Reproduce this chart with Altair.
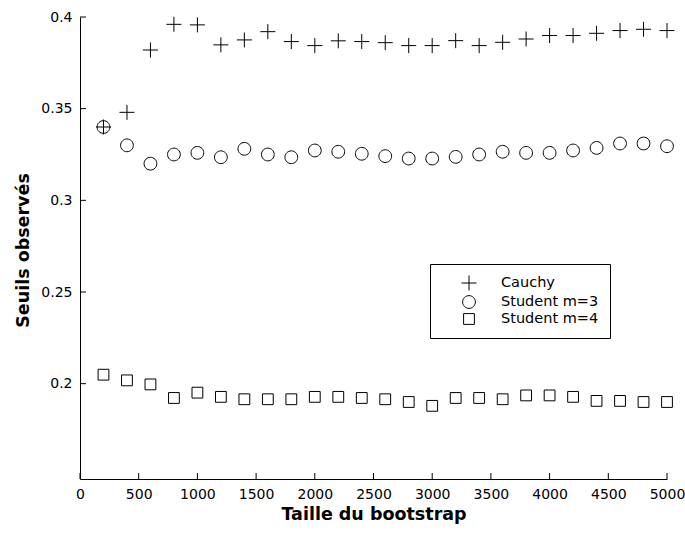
import altair as alt
import pandas as pd

# ---- data ----
taille = [200, 400, 600, 800, 1000, 1200, 1400, 1600, 1800, 2000, 2200, 2400, 2600,
          2800, 3000, 3200, 3400, 3600, 3800, 4000, 4200, 4400, 4600, 4800, 5000]
cauchy = [0.340, 0.348, 0.382, 0.396, 0.3957, 0.3848, 0.3875, 0.392, 0.3866, 0.3844,
          0.387, 0.3866, 0.386, 0.3844, 0.3844, 0.3871, 0.3844, 0.3862, 0.388, 0.3899,
          0.3899, 0.3911, 0.3926, 0.3933, 0.3926]
student3 = [0.340, 0.330, 0.320, 0.325, 0.3259, 0.3235, 0.3281, 0.325, 0.3235, 0.3272,
            0.3265, 0.3254, 0.3241, 0.3228, 0.3228, 0.3237, 0.325, 0.3265, 0.3259, 0.3259,
            0.3272, 0.3286, 0.331, 0.331, 0.3295]
student4 = [0.2049, 0.2018, 0.1996, 0.1922, 0.1951, 0.1928, 0.1915, 0.1915, 0.1915, 0.1928,
            0.1928, 0.1922, 0.1915, 0.190, 0.1879, 0.1922, 0.1922, 0.1915, 0.1936, 0.1936,
            0.1928, 0.1906, 0.1906, 0.190, 0.190]
series_names = ["Cauchy", "Student m=3", "Student m=4"]
x_ticks = [0, 500, 1000, 1500, 2000, 2500, 3000, 3500, 4000, 4500, 5000]
y_ticks = [0.2, 0.25, 0.3, 0.35, 0.4]

rows = []
for name, vals in zip(series_names, [cauchy, student3, student4]):
    for xv, yv in zip(taille, vals):
        rows.append({"taille": xv, "seuil": yv, "serie": name})
df = pd.DataFrame(rows)

W, H = 587, 462
x_scale = alt.Scale(domain=[0, 5000], nice=False, zero=False)
y_scale = alt.Scale(domain=[0.148, 0.4], nice=False, zero=False)

x_axis = alt.Axis(values=x_ticks, format="d", title="Taille du bootstrap",
                  titleY=35, titleBaseline="middle", labelPadding=8,
                  labelFlush=False, labelOverlap=False, labelBound=False)
y_axis = alt.Axis(values=y_ticks, format="~g", title="Seuils observés",
                  titleX=-57, titleY=233, titleBaseline="middle",
                  titleAngle=-90, labelPadding=8,
                  labelFlush=False, labelOverlap=False, labelBound=False)

shape_paths = [
    "M-1,0H1M0,-1V1",
    "M-0.85,0A0.85,0.85 0 1,0 0.85,0A0.85,0.85 0 1,0 -0.85,0Z",
    "M-0.72,-0.72H0.72V0.72H-0.72Z",
]

points = alt.Chart(df).mark_point(
    filled=False, stroke="black", strokeWidth=1, size=225, opacity=1
).encode(
    x=alt.X("taille:Q", scale=x_scale, axis=x_axis),
    y=alt.Y("seuil:Q", scale=y_scale, axis=y_axis),
    shape=alt.Shape("serie:N",
                    scale=alt.Scale(domain=series_names, range=shape_paths),
                    legend=alt.Legend(title=None, orient="none", legendX=350, legendY=247,
                                      strokeColor="black", fillColor="white", padding=11,
                                      symbolOffset=20, labelOffset=24, rowPadding=0,
                                      symbolSize=225, symbolStrokeWidth=1,
                                      symbolStrokeColor="black", symbolFillColor="transparent",
                                      labelFont="DejaVu Sans", labelFontSize=14.5,
                                      labelColor="black")),
)

xt = pd.DataFrame({"taille": x_ticks})
yt = pd.DataFrame({"seuil": y_ticks})

x_tick_marks = alt.Chart(xt).mark_rule(color="black", strokeWidth=1).encode(
    x=alt.X("taille:Q", scale=x_scale, axis=x_axis),
    y=alt.value(H), y2=alt.value(H - 6),
)
y_tick_marks = alt.Chart(yt).mark_rule(color="black", strokeWidth=1).encode(
    y=alt.Y("seuil:Q", scale=y_scale, axis=y_axis),
    x=alt.value(0), x2=alt.value(6),
)

chart = alt.layer(points, x_tick_marks, y_tick_marks).properties(
    width=W, height=H,
    padding={"left": 80, "top": 17, "right": 18, "bottom": 54},
    autosize=alt.AutoSizeParams(type="none"),
    background="white",
).configure_view(stroke=None).configure_axis(
    domainColor="black", domainWidth=1, ticks=False, grid=False,
    labelFont="DejaVu Sans", labelFontSize=14, labelColor="black",
    titleFont="DejaVu Sans", titleFontWeight="bold", titleFontSize=17.5, titleColor="black",
)

chart.save("out.html", embed_options={"renderer": "svg", "actions": False})
